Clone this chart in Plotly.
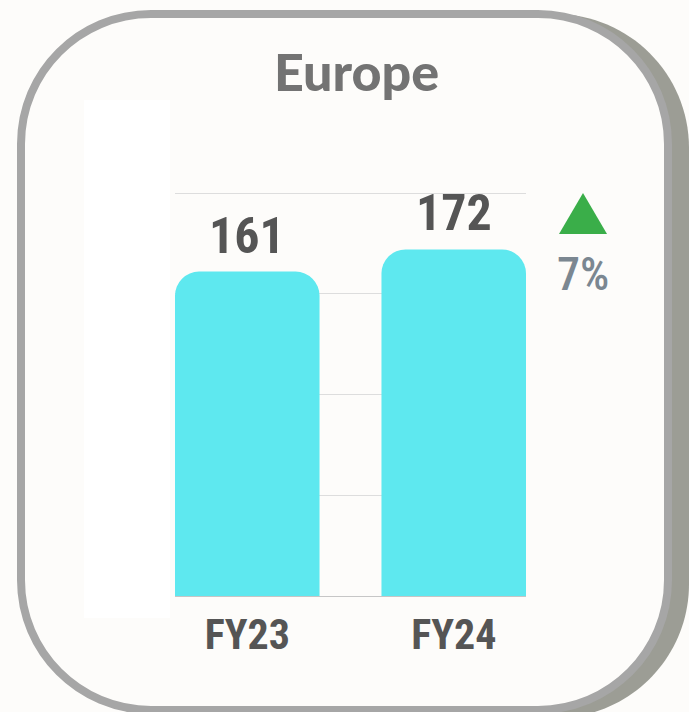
import plotly.graph_objects as go

# Data
categories = ["FY23", "FY24"]
values = [161, 172]
change_label = "7%"
title_text = "Europe"

W, H = 689, 712
PLOT_L, PLOT_R, PLOT_T, PLOT_B = 175, 526, 189, 596
Y_MAX = 202

BG = "#fdfcfa"
BAR = "#5ee8ef"
LABEL = "#555555"
NUM_FONT = "Roboto Condensed, Roboto, sans-serif"


def px(x):
    return (x - PLOT_L) / (PLOT_R - PLOT_L)


def py(y):
    return (PLOT_B - y) / (PLOT_B - PLOT_T)


def rounded_rect(x0, y0, x1, y1, r):
    k = 0.5523 * r
    pts = [
        f"M{px(x0 + r)},{py(y0)}",
        f"L{px(x1 - r)},{py(y0)}",
        f"C{px(x1 - r + k)},{py(y0)} {px(x1)},{py(y0 + r - k)} {px(x1)},{py(y0 + r)}",
        f"L{px(x1)},{py(y1 - r)}",
        f"C{px(x1)},{py(y1 - r + k)} {px(x1 - r + k)},{py(y1)} {px(x1 - r)},{py(y1)}",
        f"L{px(x0 + r)},{py(y1)}",
        f"C{px(x0 + r - k)},{py(y1)} {px(x0)},{py(y1 - r + k)} {px(x0)},{py(y1 - r)}",
        f"L{px(x0)},{py(y0 + r)}",
        f"C{px(x0)},{py(y0 + r - k)} {px(x0 + r - k)},{py(y0)} {px(x0 + r)},{py(y0)}",
        "Z",
    ]
    return " ".join(pts)


fig = go.Figure(
    go.Bar(
        x=categories,
        y=values,
        marker=dict(color=BAR, cornerradius=24, line=dict(width=0)),
        hoverinfo="skip",
    )
)

shapes = [
    # card shadow
    dict(type="path", xref="paper", yref="paper", layer="below",
         path=rounded_rect(17 + 17, 10 + 4, 672 + 17, 714 + 4, 134),
         fillcolor="#9c9d95", line=dict(width=0)),
    # card body
    dict(type="path", xref="paper", yref="paper", layer="below",
         path=rounded_rect(21, 14, 668, 710, 130),
         fillcolor=BG, line=dict(color="#a6a6a6", width=8)),
    # blank panel left of the plot
    dict(type="rect", xref="paper", yref="paper", layer="below",
         x0=px(84), x1=px(170), y0=py(100), y1=py(618),
         fillcolor="#ffffff", line=dict(width=0)),
    # up-arrow marker for the change
    dict(type="path", xref="paper", yref="paper",
         path=f"M{px(583)},{py(193)} L{px(607)},{py(234)} L{px(559)},{py(234)} Z",
         fillcolor="#3aae49", line=dict(width=0)),
]

annotations = [
    dict(text=title_text, xref="paper", yref="paper",
         x=px(356), y=py(71), xanchor="center", yanchor="middle", showarrow=False,
         font=dict(family="Lato, sans-serif", size=52, color="#737373", weight=900)),
    dict(text=change_label, xref="paper", yref="paper",
         x=px(583), y=py(274), xanchor="center", yanchor="middle", showarrow=False,
         font=dict(family=NUM_FONT, size=46, color="#7b8791", weight=500)),
]
for c, v in zip(categories, values):
    annotations.append(
        dict(text=str(v), x=c, y=v, xref="x", yref="y",
             xanchor="center", yanchor="bottom", yshift=5, showarrow=False,
             font=dict(family=NUM_FONT, size=50, color=LABEL, weight=700))
    )

fig.update_layout(
    width=W, height=H,
    margin=dict(l=PLOT_L, r=W - PLOT_R, t=PLOT_T, b=H - PLOT_B, pad=0),
    paper_bgcolor=BG, plot_bgcolor="rgba(0,0,0,0)",
    bargap=0.3, showlegend=False,
    shapes=shapes, annotations=annotations,
    xaxis=dict(
        range=[-0.35, 1.35], showgrid=False, zeroline=False,
        showline=True, linecolor="#c6c6c6", linewidth=1, layer="below traces",
        ticks="", ticklabelstandoff=2,
        tickfont=dict(family=NUM_FONT, size=42, color=LABEL, weight=700),
        fixedrange=True,
    ),
    yaxis=dict(
        range=[0, Y_MAX], dtick=50, tick0=0, showgrid=True, gridcolor="#dddddd",
        gridwidth=1, zeroline=False, showline=False, showticklabels=False,
        ticks="", fixedrange=True,
    ),
)

fig.write_html("out.html")
